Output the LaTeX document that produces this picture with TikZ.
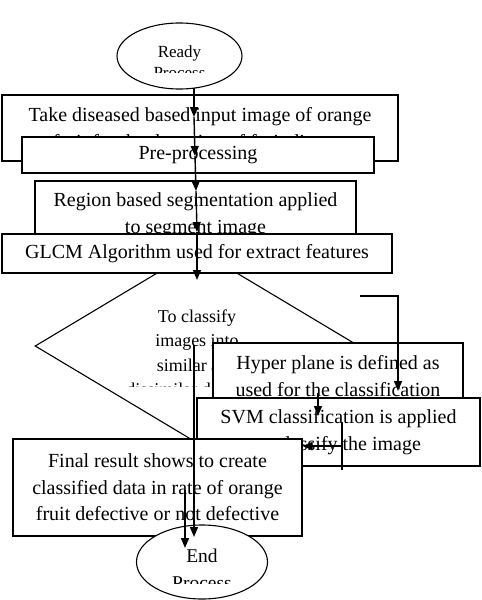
\documentclass[tikz,border=0pt]{standalone}
\usepackage{fontspec}
\setmainfont{Liberation Serif}
\usetikzlibrary{arrows.meta,shapes.geometric}

\begin{document}
\begin{tikzpicture}[x=1pt, y=-1pt,
  stepbox/.style={draw, line width=1.1pt, fill=white, rectangle, inner sep=0pt, align=center, font=\fontsize{20}{27}\selectfont},
  oval/.style={draw, line width=1.1pt, fill=white, ellipse, inner sep=0pt},
  flow/.style={line width=1.4pt, -{Triangle[length=10pt,width=8pt]}}]

\useasboundingbox (0,0) rectangle (482,600);

% Start
\node[oval, minimum width=125, minimum height=66] (ready) at (179.5,56) {};
\begin{scope}
  \clip (0,0) rectangle (482,72);
  \node[align=center, font=\fontsize{17}{21}\selectfont] (readytxt) at (179.5,62) {Ready\\Process};
\end{scope}

% Upper boxes
\node[stepbox, minimum width=396, minimum height=66] (take) at (200,128)
  {Take diseased based input image of orange\\fruit for the detection of fruit disease};
\node[stepbox, minimum width=352, minimum height=36] (pre) at (198,155) {Pre-processing};
\node[stepbox, minimum width=321, minimum height=69] (seg) at (195.5,215.5)
  {Region based segmentation applied\\to segment image};

% Decision
\node[diamond, draw, line width=1.1pt, fill=white, inner sep=0pt, minimum width=324, minimum height=194] (classify) at (197,346) {};
\node[stepbox, minimum width=390, minimum height=39] (glcm) at (197,253.5) {GLCM Algorithm used for extract features};
\begin{scope}
  \clip (0,0) rectangle (482,386);
  \node[align=center, font=\fontsize{18}{24.5}\selectfont] (classtxt) at (197,352.5)
    {To classify\\images into\\similar and\\dissimilar defective};
\end{scope}

% Lower boxes
\node[stepbox, minimum width=250, minimum height=67] (hyper) at (338,376.5)
  {Hyper plane is defined as\\used for the classification};
\node[stepbox, minimum width=283, minimum height=68] (svm) at (338.5,432)
  {SVM classification is applied\\to classify the image};
\node[stepbox, minimum width=289, minimum height=97, font=\fontsize{20}{26.5}\selectfont] (final) at (157.5,487.5)
  {Final result shows to create\\classified data in rate of orange\\fruit defective or not defective};

% End
\node[oval, minimum width=131, minimum height=74] (end) at (202,562) {};
\begin{scope}
  \clip (0,0) rectangle (482,583);
  \node[align=center, font=\fontsize{19.5}{27}\selectfont] (endtxt) at (202,569) {End\\Process};
\end{scope}

% Connectors
\coordinate (r0) at (194,88);
\coordinate (t1) at (194,117);
\coordinate (t2) at (195,156);
\coordinate (t3) at (196,191);
\coordinate (t4) at (197,232);
\coordinate (t5) at (197,280);
\draw[flow] (r0) -- (t1);
\draw[flow] (t1) -- (t2);
\draw[flow] (t2) -- (t3);
\draw[flow] (t3) -- (t4);
\draw[flow] (t4) -- (t5);

\coordinate (e0) at (360,296);
\coordinate (e1) at (398,391);
\draw[flow] (e0) -| (e1);

\coordinate (h0) at (318,393);
\coordinate (h1) at (318,416);
\draw[flow] (h0) -- (h1);

\coordinate (s0) at (342,422);
\coordinate (s1) at (342,470);
\coordinate (s2) at (342,446);
\draw[line width=1.4pt] (s0) -- (s1);
\draw[flow] (s2) -- (s2 -| final.east);

\coordinate (d0) at (194,345);
\coordinate (d1) at (194,537);
\draw[flow] (d0) -- (d1);

\coordinate (f0) at (185,490);
\coordinate (f1) at (185,548);
\draw[flow] (f0) -- (f1);

\end{tikzpicture}
\end{document}
